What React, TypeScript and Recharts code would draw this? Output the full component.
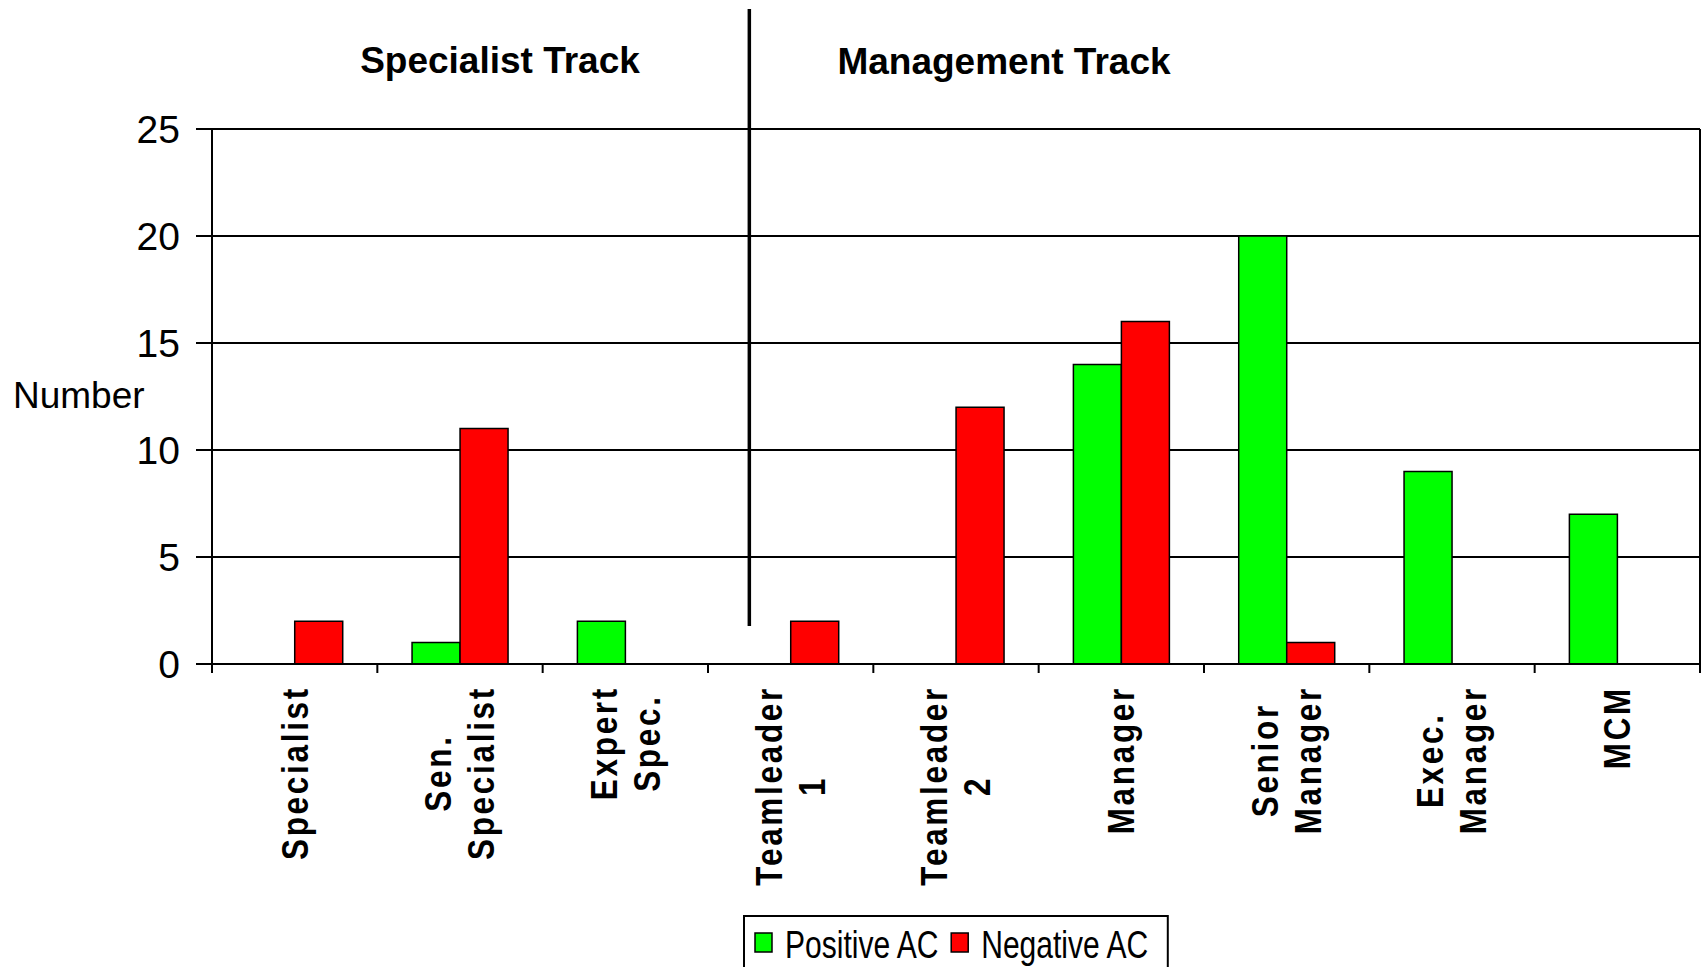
import React from "react";
import { BarChart, Bar, XAxis, YAxis, CartesianGrid } from "recharts";

// data
const categories = [
  "Specialist",
  "Sen.\nSpecialist",
  "Expert\nSpec.",
  "Teamleader\n1",
  "Teamleader\n2",
  "Manager",
  "Senior\nManager",
  "Exec.\nManager",
  "MCM",
];
const positiveAC = [0, 1, 2, 0, 0, 14, 20, 9, 7];
const negativeAC = [2, 11, 0, 2, 12, 16, 1, 0, 0];
const seriesNames = ["Positive AC", "Negative AC"];
const seriesColors = ["#00ff00", "#ff0000"];
const yTicks = [0, 5, 10, 15, 20, 25];
const trackTitles = ["Specialist Track", "Management Track"];
const yTitle = "Number";

const data = categories.map((c, i) => ({
  name: c,
  pos: positiveAC[i],
  neg: negativeAC[i],
}));

const W = 1702;
const H = 967;
const MARGIN = { top: 129, right: 2, bottom: 0, left: 0 };
const YAXIS_W = 212;
const XAXIS_H = 303;
const PLOT_LEFT = MARGIN.left + YAXIS_W;
const PLOT_W = W - PLOT_LEFT - MARGIN.right;
const BAND = PLOT_W / categories.length;

const FONT = "'Liberation Sans', Arial, Helvetica, sans-serif";

// rotated category labels
const LABEL_SIZE = 37;
const LABEL_SCALE = 0.85;
const LABEL_SPACING = 3.2;
const LABEL_LINE = 43;
const LABEL_TOP = 22;

let ctx: CanvasRenderingContext2D | null = null;
function measure(text: string, font: string) {
  if (!ctx) ctx = document.createElement("canvas").getContext("2d");
  if (!ctx) return text.length * 20;
  ctx.font = font;
  return ctx.measureText(text).width;
}

function CategoryTick(props: any) {
  const { x, y, payload, index } = props;
  const lines = String(payload.value).split("\n");
  const lens = lines.map(
    (l) =>
      (measure(l, `bold ${LABEL_SIZE}px ${FONT}`) + l.length * LABEL_SPACING) *
      LABEL_SCALE
  );
  const longest = Math.max(...lens);
  const cy = y + LABEL_TOP + longest / 2;
  const first = -((lines.length - 1) / 2) * LABEL_LINE;
  const left = x - BAND / 2;
  return (
    <g>
      <line x1={left} x2={left} y1={y} y2={y + 9} stroke="#000" strokeWidth={2} />
      {index === categories.length - 1 && (
        <line x1={x + BAND / 2} x2={x + BAND / 2} y1={y} y2={y + 9} stroke="#000" strokeWidth={2} />
      )}
      {lines.map((l, i) => (
        <text
          key={i}
          transform={`translate(${x + first + i * LABEL_LINE}, ${cy}) rotate(-90) scale(${LABEL_SCALE}, 1)`}
          textAnchor="middle"
          dominantBaseline="central"
          fontFamily={FONT}
          fontWeight="bold"
          fontSize={LABEL_SIZE}
          letterSpacing={LABEL_SPACING}
          fill="#000"
        >
          {l}
        </text>
      ))}
    </g>
  );
}

function Legend() {
  const size = 39;
  const sx = 0.77;
  const font = `${size}px ${FONT}`;
  const left = 744;
  const top = 916;
  let cur = left + 11;
  const items = seriesNames.map((name, i) => {
    const tw = measure(name, font) * sx;
    const item = { name, color: seriesColors[i], sw: cur, tx: cur + 30, tw };
    cur = cur + 30 + tw + 11;
    return item;
  });
  const right = cur + 7;
  return (
    <g>
      <rect x={left} y={top} width={right - left} height={70} fill="#fff" stroke="#000" strokeWidth={2} />
      {items.map((it) => (
        <g key={it.name}>
          <rect x={it.sw} y={933} width={17} height={19} fill={it.color} stroke="#000" strokeWidth={1.5} />
          <text
            transform={`translate(${it.tx}, 958) scale(${sx}, 1)`}
            fontFamily={FONT}
            fontSize={size}
            fill="#000"
          >
            {it.name}
          </text>
        </g>
      ))}
    </g>
  );
}

export default function App() {
  return (
    <div style={{ position: "fixed", left: 0, top: 0, width: W, height: H, background: "#fff" }}>
      <BarChart
        width={W}
        height={H}
        data={data}
        margin={MARGIN}
        barCategoryGap="21%"
        barGap={0}
      >
        <CartesianGrid
          stroke="#000"
          strokeWidth={2}
          vertical
          verticalCoordinatesGenerator={({ offset }: any) => [offset.left + offset.width]}
        />
        <XAxis
          dataKey="name"
          interval={0}
          height={XAXIS_H}
          tickSize={0}
          tickMargin={0}
          tickLine={false}
          axisLine={{ stroke: "#000", strokeWidth: 2 }}
          tick={<CategoryTick />}
        />
        <YAxis
          width={YAXIS_W}
          domain={[0, 25]}
          ticks={yTicks}
          interval={0}
          tickSize={16}
          tickMargin={16}
          axisLine={{ stroke: "#000", strokeWidth: 2 }}
          tickLine={{ stroke: "#000", strokeWidth: 2 }}
          tick={{ fill: "#000", fontSize: 39, fontFamily: FONT }}
        />
        <Bar dataKey="pos" name={seriesNames[0]} fill={seriesColors[0]} stroke="#000" strokeWidth={1.5} isAnimationActive={false} />
        <Bar dataKey="neg" name={seriesNames[1]} fill={seriesColors[1]} stroke="#000" strokeWidth={1.5} isAnimationActive={false} />
      </BarChart>
      <svg
        width={W}
        height={H}
        style={{ position: "absolute", left: 0, top: 0, pointerEvents: "none" }}
      >
        <text x={500} y={73} textAnchor="middle" fontFamily={FONT} fontWeight="bold" fontSize={37} fill="#000">
          {trackTitles[0]}
        </text>
        <text x={1004} y={74} textAnchor="middle" fontFamily={FONT} fontWeight="bold" fontSize={37} fill="#000">
          {trackTitles[1]}
        </text>
        <line
          x1={PLOT_LEFT + BAND * 3.25}
          x2={PLOT_LEFT + BAND * 3.25}
          y1={9}
          y2={626}
          stroke="#000"
          strokeWidth={3.5}
        />
        <text x={13} y={408} fontFamily={FONT} fontSize={37} fill="#000">
          {yTitle}
        </text>
        <Legend />
      </svg>
    </div>
  );
}
